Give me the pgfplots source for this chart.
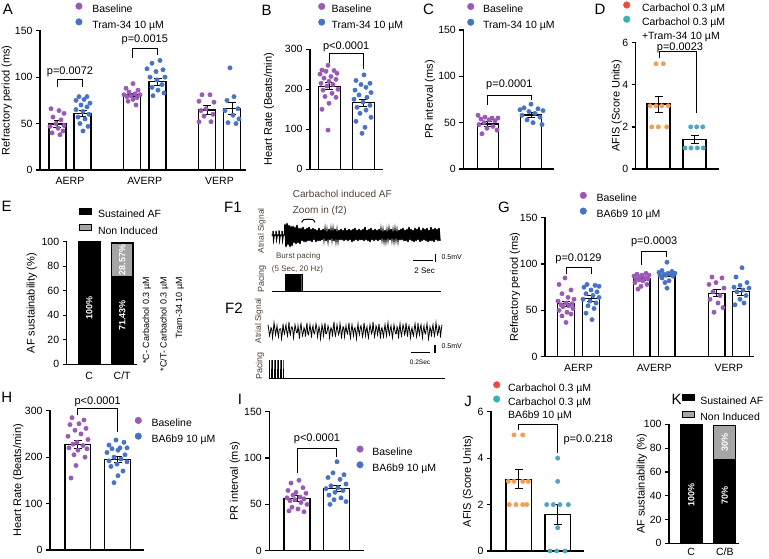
\documentclass[border=0pt]{standalone}
\usepackage{pgfplots}
\pgfplotsset{compat=1.18}
\usepackage{fontspec}
\setmainfont{Liberation Sans}
\newcommand{\fsz}[2]{\fontsize{#1}{#2}\selectfont}
\definecolor{cpur}{RGB}{155,89,182}
\definecolor{cblu}{RGB}{72,115,196}
\definecolor{cred}{RGB}{234,76,66}
\definecolor{cteal}{RGB}{56,178,172}
\definecolor{corg}{RGB}{244,158,82}
\definecolor{ctp}{RGB}{78,166,192}
\definecolor{cgray}{RGB}{165,165,165}
\definecolor{cbrown}{RGB}{80,66,54}
\pgfplotsset{
  gp/.style={
    scale only axis, clip=false,
    axis x line=bottom, axis y line=left,
    axis line style={-, line width=1.2pt, line cap=rect},
    ymin=0,
    tick align=outside,
    major tick length=4pt,
    major tick style={line width=1.2pt, black},
    major x tick style={draw=none},
    minor tick num=0,
    /pgf/number format/assume math mode=true,
    tick label style={font=\fsz{10.5}{12}},
    ylabel style={font=\fsz{11}{13}},
  },
  yl/.style={ylabel style={at={(axis description cs:#1,0.5)}, anchor=center}},
  dotleg/.style={
    legend image code/.code={\draw[##1,mark size=3.3pt] plot coordinates {(0pt,3.7pt)};},
    legend cell align=left,
    legend style={draw=none, fill=none, inner sep=0pt, outer sep=0pt, anchor=north west,
      font=\fsz{10.5}{12}, row sep=2.5pt, column sep=#1,
      nodes={inner sep=1pt, text height=8pt, text depth=2.5pt}},
  },
  recleg/.style={
    legend image code/.code={\draw[##1, line width=1pt] (0pt,0.8pt) rectangle (12pt,6.8pt);},
    legend cell align=left,
    legend style={draw=none, fill=none, inner sep=0pt, outer sep=0pt, anchor=north west,
      font=\fsz{10.5}{12}, row sep=3pt, column sep=#1,
      nodes={inner sep=1pt, text height=8pt, text depth=2.5pt}},
  },
  gbar/.style={ybar, bar shift=0pt, bar width=#1, fill=white, draw=black, line width=1.2pt, forget plot},
  sbar/.style={ybar, bar shift=0pt, bar width=#1, draw=black, line width=1.2pt, forget plot},
  pdot/.style={only marks, mark=*, mark size=2.2pt, color=#1, mark options={draw=#1, fill=#1}},
  gerr/.style={draw=none, mark=none, forget plot,
    error bars/.cd, y dir=both, y explicit,
    error bar style={draw=black, line width=0.9pt},
    error mark options={rotate=90, mark size=4pt, line width=0.9pt, draw=black}},
  brk/.style={black, line width=0.9pt, forget plot, mark=none},
}
\tikzset{pv/.style={font=\fsz{11}{13}}, plet/.style={font=\fsz{15}{18}},
  inl/.style={rotate=90, text=white, font=\bfseries\fsz{9}{11}},
  ftx/.style={text=cbrown}}
\begin{document}
\begin{tikzpicture}
\path[use as bounding box] (0pt,0pt) rectangle (769pt,-558pt);

% ---------------- A
\begin{axis}[gp, dotleg=9pt, yl=-0.1624, width=205pt, height=139.3pt, at={(40pt,-170pt)}, anchor=south west,
  xmin=40, xmax=245, ymax=150, ytick={0,50,100,150},
  xtick={70,144.8,219.5}, xticklabels={AERP,AVERP,VERP},
  ylabel={Refractory period (ms)}, legend style={at={(0.174,1.200)}}]
\addplot[gbar=17] coordinates {(57.5,49.5)(82.5,61)(132,80.7)(157.5,95)(207,64.6)(232,66.4)};
\addplot[pdot=cpur] coordinates {(51,66)(59,64)(64,61)(53,57)(61,54)(56,50)(64,48)(50,47)(58,45)(63,42)(52,40)(60,38)
 (133,93)(126,88)(138,86)(129,84)(135,82)(124,81)(140,81)(131,80)(127,79)(137,78)(133,76)(128,74)(136,70)
 (202,81)(210,81)(199,74)(214,73)(206,66)(201,64)(213,60)(204,58)(199,52)(211,52)};
\addlegendentry{Baseline}
\addplot[pdot=cblu] coordinates {(79,79)(87,79)(84,76)(76,75)(90,72)(81,70)(87,68)(76,65)(83,63)(89,60)(78,57)(85,55)(80,50)(88,47)(83,42)
 (160,118)(152,115)(147,109)(163,108)(156,106)(150,100)(165,100)(157,97)(162,92)(152,89)(158,86)(164,83)(153,80)
 (230,110)(234,79)(227,75)(238,66)(225,64)(233,59)(239,55)(228,51)(236,50)};
\addlegendentry{Tram-34 10 µM}
\addplot[gerr] coordinates {(57.5,49.5) +- (0,3.5) (82.5,61) +- (0,3.5) (132,80.7) +- (0,2) (157.5,95) +- (0,4) (207,64.6) +- (0,4.5) (232,66.4) +- (0,6.5)};
\addplot[brk] coordinates {(57.5,89)(57.5,97)(82.5,97)(82.5,89)};
\addplot[brk] coordinates {(132,121)(132,131)(157.5,131)(157.5,124)};
\node[pv] at (axis cs:70,106) {p=0.0072};
\node[pv] at (axis cs:144.8,140) {p=0.0015};
\end{axis}

% ---------------- B
\begin{axis}[gp, dotleg=5.5pt, yl=-0.569, width=72pt, height=120pt, at={(310pt,-169.3pt)}, anchor=south west,
  xmin=310, xmax=382, ymax=300, ytick={0,100,200,300}, xtick=\empty,
  ylabel={Heart Rate (Beats/min)}, legend style={at={(0.117,1.385)}}]
\addplot[gbar=22] coordinates {(329.2,208)(363.2,166.5)};
\addplot[pdot=cpur] coordinates {(328,260)(322,248)(334,247)(326,245)(337,240)(320,238)(331,232)(324,228)(336,225)(329,220)(321,215)(333,212)(327,208)(338,200)(323,198)(332,190)(325,182)(336,180)(329,165)(322,150)(328,98)};
\addlegendentry{Baseline}
\addplot[pdot=cblu] coordinates {(364,236)(356,222)(370,215)(361,212)(366,205)(355,198)(371,192)(359,186)(367,180)(354,175)(363,168)(370,160)(357,155)(366,148)(360,140)(371,130)(356,120)(365,105)(362,90)};
\addlegendentry{Tram-34 10 µM}
\addplot[gerr] coordinates {(329.2,208) +- (0,9) (363.2,166.5) +- (0,9)};
\addplot[brk] coordinates {(329.2,265)(329.2,290)(363.2,290)(363.2,250)};
\node[pv] at (axis cs:346.2,306) {p<0.0001};
\end{axis}

% ---------------- C
\begin{axis}[gp, dotleg=8pt, yl=-0.371, width=89.7pt, height=139pt, at={(463.3pt,-169pt)}, anchor=south west,
  xmin=463.3, xmax=553, ymax=150, ytick={0,50,100,150}, xtick=\empty,
  ylabel={PR interval (ms)}, legend style={at={(0.046,1.193)}}]
\addplot[gbar=21] coordinates {(487.7,48.6)(531,58.3)};
\addplot[pdot=cpur] coordinates {(478,58)(485,56)(492,55)(498,55)(481,54)(489,53)(495,52)(484,50)(479,48)(493,46)(487,44)(497,42)(482,38)};
\addlegendentry{Baseline}
\addplot[pdot=cblu] coordinates {(531,70)(524,66)(538,65)(520,64)(543,63)(529,62)(535,60)(522,58)(540,56)(527,53)(533,50)(542,48)};
\addlegendentry{Tram-34 10 µM}
\addplot[gerr] coordinates {(487.7,48.6) +- (0,2.2) (531,58.3) +- (0,2.2)};
\addplot[brk] coordinates {(487.7,69)(487.7,79)(531,79)(531,74)};
\node[pv] at (axis cs:509.3,90.6) {p=0.0001};
\end{axis}

% ---------------- D
\begin{axis}[gp, dotleg=11pt, yl=-0.231, width=82.3pt, height=126.3pt, at={(635.7pt,-169pt)}, anchor=south west,
  xmin=635.7, xmax=718, ymax=6, ytick={0,2,4,6}, xtick=\empty,
  ylabel={AFIS (Score Units)}, legend style={at={(-0.149,1.325)}, row sep=1pt}]
\addplot[gbar=23] coordinates {(658.5,3.09)(694.5,1.41)};
\addlegendimage{only marks, mark=*, color=cred}
\addlegendentry{Carbachol 0.3 µM}
\addlegendimage{only marks, mark=*, color=cteal}
\addlegendentry{Carbachol 0.3 µM}
\addlegendimage{empty legend}
\addlegendentry{+Tram-34 10 µM}
\addplot[pdot=corg, forget plot] coordinates {(656,5)(663.3,5)(650,3)(656,3)(661.7,3)(668.3,3)(651.7,2)(658.3,2)(666.7,2)};
\addplot[pdot=ctp, forget plot] coordinates {(690.7,2)(696.7,2)(702.7,2)(685,1)(691,1)(697.3,1)(703.3,1)};
\addplot[gerr] coordinates {(658.5,3.09) +- (0,0.38) (694.5,1.41) +- (0,0.2)};
\addplot[brk] coordinates {(659.3,5.27)(659.3,5.58)(696,5.58)(696,2.65)};
\node[pv] at (axis cs:680,5.75) {p=0.0023};
\end{axis}

% ---------------- E
\begin{axis}[gp, recleg=4.7pt, yl=-0.5, width=70pt, height=122.6pt, at={(66.7pt,-364.3pt)}, anchor=south west,
  xmin=66.7, xmax=136.7, ymax=100, ytick={0,20,40,60,80,100},
  xtick={89.2,122.2}, xticklabels={C,C/T},
  ylabel={AF sustainability (\%)}, legend style={at={(0.181,1.279)}}]
\addplot[sbar=21.7, fill=cgray] coordinates {(122.2,99)};
\addplot[sbar=21.7, fill=black] coordinates {(89.2,100)(122.2,71.43)};
\addlegendimage{fill=black, draw=black}
\addlegendentry{Sustained AF}
\addlegendimage{fill=cgray, draw=black}
\addlegendentry{Non Induced}
\node[inl] at (axis cs:89.2,45.6) {100\%};
\node[inl] at (axis cs:122.2,40) {71.43\%};
\node[inl] at (axis cs:122.2,85) {28.57\%};
\end{axis}

% ---------------- G
\begin{axis}[gp, dotleg=9pt, yl=-0.144, width=208.3pt, height=139pt, at={(545pt,-356.7pt)}, anchor=south west,
  xmin=545, xmax=753.3, ymax=150, ytick={0,50,100,150},
  xtick={578.5,654.2,728.8}, xticklabels={AERP,AVERP,VERP},
  ylabel={Refractory period (ms)}, legend style={at={(0.168,1.1845)}}]
\addplot[gbar=16.7] coordinates {(566,57)(591,63)(641.7,84)(666.7,88)(716.7,68.5)(741,70)};
\addplot[pdot=cpur] coordinates {(565,85)(559,78)(571,72)(562,68)(568,64)(574,62)(558,60)(566,58)(572,57)(561,56)(569,55)(563,54)(573,52)(559,50)(567,48)(571,46)(562,44)(566,37)
 (646,90)(637,89)(642,88)(649,88)(634,87)(640,86)(645,85)(636,84)(648,84)(639,83)(643,82)(635,80)(647,78)(641,76)(638,73)
 (712,86)(722,85)(716,80)(709,78)(724,74)(713,70)(720,66)(710,62)(718,58)(723,53)(714,48)};
\addlegendentry{Baseline}
\addplot[pdot=cblu] coordinates {(587,78)(595,77)(599,76)(584,75)(591,72)(597,70)(586,68)(593,66)(599,64)(583,62)(590,60)(596,58)(588,55)(594,52)(586,47)(592,40)
 (667,102)(662,93)(672,92)(659,91)(668,90)(675,90)(664,89)(671,89)(660,88)(666,88)(673,87)(662,85)(669,82)(665,80)(667,74)
 (742,96)(736,86)(747,80)(740,77)(734,75)(749,74)(743,72)(737,70)(746,66)(740,62)(744,58)(735,56)};
\addlegendentry{BA6b9 10 µM}
\addplot[gerr] coordinates {(566,57) +- (0,3) (591,63) +- (0,3) (641.7,84) +- (0,1.5) (666.7,88) +- (0,1.5) (716.7,68.5) +- (0,4) (741,70) +- (0,4)};
\addplot[brk] coordinates {(566,89)(566,96.5)(591,96.5)(591,89)};
\addplot[brk] coordinates {(641.7,99)(641.7,114)(666.7,114)(666.7,108)};
\node[pv] at (axis cs:578.5,106) {p=0.0129};
\node[pv] at (axis cs:654.2,124) {p=0.0003};
\end{axis}

% ---------------- H
\begin{axis}[gp, dotleg=9pt, yl=-0.340, width=93.3pt, height=139.3pt, at={(50pt,-550pt)}, anchor=south west,
  xmin=50, xmax=143.3, ymax=300, ytick={0,100,200,300}, xtick=\empty,
  ylabel={Heart Rate (Beats/min)}, legend style={at={(0.911,0.954)}}]
\addplot[gbar=25.7] coordinates {(77.8,227.6)(117.5,195.4)};
\addplot[pdot=cpur] coordinates {(72,285)(84,280)(79,272)(70,270)(86,262)(75,258)(81,250)(68,245)(88,238)(77,232)(73,228)(83,225)(69,220)(87,218)(78,215)(74,205)(85,200)(76,182)(71,155)};
\addlegendentry{Baseline}
\addplot[pdot=cblu] coordinates {(116,237)(124,232)(109,226)(120,220)(127,220)(112,218)(118,215)(107,210)(125,205)(114,200)(121,196)(109,192)(127,190)(117,185)(111,180)(123,170)(118,160)(114,145)};
\addlegendentry{BA6b9 10 µM}
\addplot[gerr] coordinates {(77.8,227.6) +- (0,8) (117.5,195.4) +- (0,6)};
\addplot[brk] coordinates {(77.8,290)(77.8,305)(117.5,305)(117.5,255)};
\node[pv] at (axis cs:97.7,320) {p<0.0001};
\end{axis}

% ---------------- I
\begin{axis}[gp, dotleg=8pt, yl=-0.365, width=94pt, height=139pt, at={(269.3pt,-550.7pt)}, anchor=south west,
  xmin=269.3, xmax=363.3, ymax=150, ytick={0,50,100,150}, xtick=\empty,
  ylabel={PR interval (ms)}, legend style={at={(0.930,0.755)}}]
\addplot[gbar=26] coordinates {(297,56.5)(336.7,67.3)};
\addplot[pdot=cpur] coordinates {(299,76)(291,73)(303,68)(288,65)(296,63)(306,62)(293,60)(300,58)(287,57)(304,56)(295,55)(290,54)(301,52)(307,50)(292,47)(298,45)(289,43)(304,42)};
\addlegendentry{Baseline}
\addplot[pdot=cblu] coordinates {(337,96)(333,84)(344,82)(328,79)(340,77)(346,72)(331,70)(338,68)(326,67)(343,65)(335,63)(329,60)(341,57)(334,55)(346,53)(330,50)};
\addlegendentry{BA6b9 10 µM}
\addplot[gerr] coordinates {(297,56.5) +- (0,3) (336.7,67.3) +- (0,3)};
\addplot[brk] coordinates {(297,83.5)(297,110.5)(336.7,110.5)(336.7,100.8)};
\node[pv] at (axis cs:317,121) {p<0.0001};
\end{axis}

% ---------------- J
\begin{axis}[gp, dotleg=7pt, yl=-0.249, width=92.3pt, height=139.3pt, at={(491pt,-551pt)}, anchor=south west,
  xmin=491, xmax=583.3, ymax=6, ytick={0,2,4,6}, xtick=\empty,
  ylabel={AFIS (Score Units)}, legend style={at={(0.026,1.217)}, row sep=1pt}]
\addplot[gbar=25.7] coordinates {(518.8,3.09)(557.8,1.58)};
\addlegendimage{only marks, mark=*, color=cred}
\addlegendentry{Carbachol 0.3 µM}
\addlegendimage{only marks, mark=*, color=cteal}
\addlegendentry{Carbachol 0.3 µM}
\addlegendimage{empty legend}
\addlegendentry{BA6b9 10 µM}
\addplot[pdot=corg, forget plot] coordinates {(514,5)(522.7,5)(508.3,3)(514,3)(522.7,3)(528.3,3)(509.3,2)(516,2)(522.7,2)(526.7,2)};
\addplot[pdot=ctp, forget plot] coordinates {(557.7,4)(557.7,3)(546.7,2)(553.3,2)(560,2)(568.3,2)(557.7,1)(550,0)(556.7,0)(565,0)};
\addplot[gerr] coordinates {(518.8,3.09) +- (0,0.41) (557.8,1.58) +- (0,0.42)};
\addplot[brk] coordinates {(518.8,5.2)(518.8,5.45)(557.8,5.45)(557.8,4.24)};
\node[pv, anchor=west] at (axis cs:560,4.81) {p=0.0.218};
\end{axis}

% ---------------- K
\begin{axis}[gp, recleg=4.7pt, yl=-0.394, width=69.3pt, height=119pt, at={(669pt,-543.3pt)}, anchor=south west,
  xmin=669, xmax=738.3, ymax=100, ytick={0,20,40,60,80,100},
  xtick={691.2,724.8}, xticklabels={C,C/B}, xticklabel style={yshift=2.5pt},
  ylabel={AF sustainability (\%)}, legend style={at={(0.183,1.254)}}]
\addplot[sbar=22, fill=cgray] coordinates {(724.8,99)};
\addplot[sbar=22, fill=black] coordinates {(691.2,100)(724.8,70)};
\addlegendimage{fill=black, draw=black}
\addlegendentry{Sustained AF}
\addlegendimage{fill=cgray, draw=black}
\addlegendentry{Non Induced}
\node[inl] at (axis cs:691.2,40.6) {100\%};
\node[inl] at (axis cs:724.8,40) {70\%};
\node[inl] at (axis cs:724.8,84.5) {30\%};
\end{axis}

% ---------------- F1 trace
\begin{axis}[hide axis, scale only axis, clip=false, width=172pt, height=28pt,
  xmin=270, xmax=442, ymin=-14, ymax=14, at={(270pt,-249pt)}, anchor=south west]
\addplot[black, line width=1.4pt, mark=none] coordinates {
(271.7,0)(273,0)(273,4)(273.6,-4)(274.2,0)(276,0)(276,4)(276.6,-3.5)(277.2,0)(279,0)(279,4.5)(279.6,-4)(280.2,0)(282,0)(282,4)(282.6,-4)(283.2,0)(284.5,0)
(285,11)(286,-12)(287,12)(288,-10)(289,10)(290,-12)(291,9)(292,-11)(293,9)(294,-8)(295,8)(296,-9)(297,10)(298,-8)(299,7)(300,-9)
(301,7)(302,-6)(303,8)(304,-7)(305,6)(306,-7)(307,7)(308,-6)(309,8)(310,-6)(311,6)(312,-7)(313,7)(314,-5)(315,6)(316,-7)(317,5)(318,-6)(319,7)(320,-6)
(321,5)(322,-5)(323,6)(324,-4)(325,5)(326,-6)(327,4)(328,-5)(329,6)(330,-5)(331,5)(332,-4)(333,5)(334,-6)(335,6)(336,-5)(337,4)(338,-5)(339,5)(340,-5)
(341,6)(342,-5)(343,5)(344,-6)(345,7)(346,-5)(347,5)(348,-6)(349,6)(350,-5)(351,5)(352,-7)(353,6)(354,-6)(355,7)(356,-5)(357,5)(358,-6)(359,6)(360,-5)
(361,5)(362,-5)(363,6)(364,-6)(365,8)(366,-5)(367,5)(368,-6)(369,6)(370,-7)(371,7)(372,-5)(373,5)(374,-6)(375,6)(376,-5)(377,5)(378,-6)(379,6)(380,-5)
(381,5)(382,-4)(383,4)(384,-5)(385,5)(386,-5)(387,4)(388,-4)(389,5)(390,-5)(391,6)(392,-4)(393,4)(394,-5)(395,5)(396,-4)(397,4)(398,-5)(399,5)(400,-5)
(401,6)(402,-5)(403,7)(404,-6)(405,5)(406,-6)(407,6)(408,-7)(409,8)(410,-5)(411,6)(412,-6)(413,5)(414,-7)(415,7)(416,-6)(417,6)(418,-5)(419,8)(420,-7)
(421,5)(422,-6)(423,7)(424,-5)(425,6)(426,-6)(427,7)(428,-7)(429,5)(430,-6)(431,8)(432,-6)(433,6)(434,-7)(435,7)(436,-5)(437,6)(438,-6)(439,7)(440,-6)};
\end{axis}

% ---------------- F2 trace (x unit = 0.75 px)
\begin{axis}[hide axis, scale only axis, clip=false, width=180pt, height=24pt,
  xmin=-2.667, xmax=237.333, ymin=-12, ymax=12, at={(266pt,-342.7pt)}, anchor=south west]
\addplot[black, line width=0.8pt, mark=none] coordinates {
(0,6)(1,1)(2,-5)(3,-2)(4,3)(5,2)(6,-7)(7,-1)(8,8)(9,3)(10,-4)(11,0)(12,5)(13,-2)(14,-6)(15,1)(16,2)(17,2)(18,-8)(19,-3)
(20,7)(21,0)(22,-3)(23,2)(24,6)(25,-1)(26,-5)(27,1)(28,9)(29,-2)(30,-4)(31,3)(32,4)(33,1)(34,-7)(35,-1)(36,6)(37,2)(38,-2)(39,-2)
(40,5)(41,-1)(42,-8)(43,3)(44,7)(45,0)(46,-5)(47,-2)(48,3)(49,1)(50,-6)(51,2)(52,8)(53,-3)(54,-4)(55,1)(56,6)(57,0)(58,-7)(59,2)
(60,5)(61,-2)(62,-3)(63,1)(64,7)(65,3)(66,-6)(67,-1)(68,4)(69,0)(70,-8)(71,-2)(72,6)(73,2)(74,-5)(75,1)(76,8)(77,-3)(78,-3)(79,0)
(80,5)(81,2)(82,-7)(83,-1)(84,3)(85,1)(86,-6)(87,3)(88,9)(89,-2)(90,-5)(91,0)(92,6)(93,1)(94,-4)(95,-2)(96,7)(97,2)(98,-8)(99,-1)
(100,4)(101,3)(102,-6)(103,0)(104,5)(105,-1)(106,-3)(107,2)(108,8)(109,-3)(110,-7)(111,1)(112,6)(113,0)(114,-5)(115,2)(116,3)(117,-2)(118,-8)(119,1)
(120,7)(121,-1)(122,-4)(123,3)(124,5)(125,0)(126,-6)(127,-2)(128,8)(129,2)(130,-5)(131,1)(132,4)(133,-3)(134,-7)(135,0)(136,6)(137,2)(138,-3)(139,-1)
(140,9)(141,1)(142,-6)(143,-2)(144,5)(145,3)(146,-4)(147,0)(148,7)(149,-1)(150,-8)(151,2)(152,3)(153,-2)(154,-6)(155,1)(156,6)(157,0)(158,-5)(159,3)
(160,8)(161,-1)(162,-4)(163,2)(164,5)(165,-2)(166,-7)(167,0)(168,6)(169,1)(170,-3)(171,-3)(172,4)(173,2)(174,-8)(175,1)(176,7)(177,-1)(178,-5)(179,0)
(180,6)(181,3)(182,-4)(183,-2)(184,8)(185,1)(186,-6)(187,2)(188,5)(189,-1)(190,-7)(191,0)(192,3)(193,-3)(194,-5)(195,2)(196,7)(197,1)(198,-6)(199,-2)
(200,8)(201,0)(202,-4)(203,3)(204,6)(205,-1)(206,-7)(207,1)(208,5)(209,-2)(210,-3)(211,2)(212,7)(213,0)(214,-8)(215,-3)(216,4)(217,1)(218,-6)(219,2)
(220,6)(221,-1)(222,-5)(223,0)(224,8)(225,2)(226,-4)(227,-2)(228,5)(229,3)(230,-7)(231,1)(232,6)};
\end{axis}

% ---------------- F canvas (pacing, scale bars)
\begin{axis}[hide axis, scale only axis, clip=false, width=769pt, height=558pt,
  xmin=0, xmax=769, ymin=0, ymax=558, y dir=reverse, at={(0pt,-558pt)}, anchor=south west]
\addplot[black, line width=0.8pt, mark=none] coordinates {(271.7,291.5)(441,291.5)};
\addplot[fill=black, draw=black, line width=0.4pt, mark=none] coordinates {(285,291.5)(285,274.3)(301.7,274.3)(301.7,291.5)(285,291.5)};
\addplot[black, line width=1.3pt, mark=none] coordinates {(413.3,260.7)(432.7,260.7)};
\addplot[black, line width=1.2pt, mark=none] coordinates {(435.7,253.5)(435.7,261.5)};
\addplot[black, line width=1pt, mark=none, smooth] coordinates {(301.7,222.5)(303.5,219.8)(308.3,219.2)(313.2,219.8)(315,222.5)};
\addplot[black, line width=0.8pt, mark=none] coordinates {(269.3,378)(445,378)};
\addplot[black, line width=0.5pt, mark=none] coordinates {(269.5,378)(269.5,360)(269.5,378)(271,378)(271,360)(271,378)(272.5,378)(272.5,360)(272.5,378)(274,378)(274,360)(274,378)(275.5,378)(275.5,360)(275.5,378)(277,378)(277,360)(277,378)(278.5,378)(278.5,360)(278.5,378)(280,378)(280,360)(280,378)(281.5,378)(281.5,360)(281.5,378)(283,378)(283,360)(283,378)};
\addplot[black, line width=1.3pt, mark=none] coordinates {(411,352.3)(430,352.3)};
\addplot[black, line width=1.2pt, mark=none] coordinates {(435,345)(435,353.3)};
\end{axis}

% ---------------- F texts
\node[ftx, anchor=west, font=\fsz{10}{12}] at (289.3pt,-194pt) {Carbachol induced AF};
\node[ftx, anchor=west, font=\fsz{10}{12}] at (289.3pt,-210.7pt) {Zoom in (f2)};
\node[plet] at (233pt,-207.5pt) {F1};
\node[plet] at (234pt,-308pt) {F2};
\node[ftx, rotate=90, font=\fsz{8.4}{10}] at (261.7pt,-230.8pt) {Atrial Signal};
\node[ftx, rotate=90, font=\fsz{8.4}{10}] at (259pt,-320.8pt) {Atrial Signal};
\node[ftx, rotate=90, font=\fsz{9}{10}] at (261.7pt,-279pt) {Pacing};
\node[ftx, rotate=90, font=\fsz{9}{10}] at (260pt,-366pt) {Pacing};
\node[ftx, font=\fsz{8}{10}] at (298.3pt,-256.7pt) {Burst pacing};
\node[ftx, font=\fsz{8}{10}] at (297.5pt,-269.3pt) {(5 Sec, 20 Hz)};
\node[font=\fsz{8}{10}] at (424.7pt,-270.7pt) {2 Sec};
\node[anchor=west, font=\fsz{7}{8}] at (438pt,-257.3pt) {0.5mV};
\node[anchor=west, font=\fsz{7}{8}] at (438pt,-345.7pt) {0.5mV};
\node[font=\fsz{6.5}{8}] at (420pt,-362.7pt) {0.2Sec};

% ---------------- E side note
\node[rotate=90, anchor=east, font=\fsz{9}{11}] at (146.7pt,-273.3pt) {*C- Carbachol 0.3 µM};
\node[rotate=90, anchor=east, font=\fsz{9}{11}] at (164.3pt,-273.3pt) {*C/T- Carbachol 0.3 µM};
\node[rotate=90, anchor=east, font=\fsz{9}{11}] at (180pt,-273.3pt) {Tram-34 10 µM};

% ---------------- panel letters
\node[plet] at (8pt,-9pt) {A};
\node[plet] at (266.7pt,-10pt) {B};
\node[plet] at (428.5pt,-9.5pt) {C};
\node[plet] at (600pt,-9pt) {D};
\node[plet] at (6.7pt,-206pt) {E};
\node[plet] at (504pt,-207.5pt) {G};
\node[plet] at (6.7pt,-397.7pt) {H};
\node[plet] at (240pt,-399pt) {I};
\node[plet] at (468pt,-401pt) {J};
\node[plet] at (676.7pt,-399pt) {K};
\end{tikzpicture}
\end{document}
